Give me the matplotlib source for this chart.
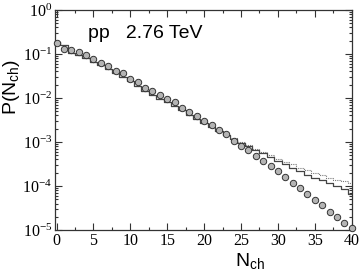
import numpy as np
import matplotlib
matplotlib.use('Agg')
import matplotlib.pyplot as plt
from matplotlib.ticker import MultipleLocator, LogLocator, NullFormatter

plt.rcParams['mathtext.fontset'] = 'custom'
plt.rcParams['mathtext.rm'] = 'Liberation Serif'
plt.rcParams['mathtext.it'] = 'Liberation Serif:italic'
plt.rcParams['mathtext.sf'] = 'Liberation Sans'

# multiplicity bins
nch = list(range(0, 41))

# data points (circles)
p_data = [0.18, 0.133, 0.122, 0.110, 0.096, 0.078, 0.063, 0.053, 0.0415, 0.036,
          0.0273, 0.0229, 0.0172, 0.0141, 0.0115, 0.0097, 0.0080, 0.0060, 0.00475, 0.00386,
          0.00303, 0.00246, 0.00185, 0.00148, 0.00108, 0.00083, 0.00065, 0.000476, 0.000366, 0.000282,
          0.000214, 0.000159, 0.000118, 8.9e-5, 6.65e-5, 4.93e-5, 3.66e-5, 2.63e-5, 2.0e-5, 1.46e-5,
          1.12e-5]

# model histogram (solid)
p_solid = [0.19, 0.16, 0.105, 0.094, 0.082, 0.067, 0.055, 0.045, 0.036, 0.030,
           0.024, 0.019, 0.0145, 0.0118, 0.0093, 0.0080, 0.0066, 0.0052, 0.0042, 0.0034,
           0.0027, 0.0022, 0.00175, 0.00145, 0.00120, 0.00097, 0.00080, 0.00066, 0.00055, 0.00045,
           0.00037, 0.00031, 0.00026, 0.00022, 0.00018, 0.000155, 0.000135, 0.000118, 0.000100, 0.000085,
           0.000065]

# model histogram (dotted)
p_dot = [0.19, 0.16, 0.105, 0.094, 0.082, 0.067, 0.055, 0.045, 0.036, 0.030,
         0.024, 0.019, 0.0145, 0.0118, 0.0093, 0.0080, 0.0066, 0.0052, 0.0042, 0.0034,
         0.0027, 0.0022, 0.00175, 0.00145, 0.00121, 0.00100, 0.00084, 0.00070, 0.00060, 0.00050,
         0.00042, 0.00036, 0.00031, 0.00026, 0.00023, 0.00020, 0.000175, 0.000155, 0.000140, 0.000128,
         0.000120]

fig = plt.figure(figsize=(3.6, 2.73), dpi=100)
ax = fig.add_axes([0.153, 0.1575, 0.825, 0.806])

ax.step(nch, p_dot, where='mid', color='#777777', lw=0.8, ls=(0, (1, 1)))
ax.step(nch, p_solid, where='mid', color='#444444', lw=0.9)
ax.plot(nch, p_data, 'o', ms=4.6, mfc='#b4b4b4', mec='#333333', mew=0.7, clip_on=False, zorder=3)

ax.set_yscale('log')
ax.set_xlim(-0.2, 40.05)
ax.set_ylim(1e-5, 1)

ax.xaxis.set_major_locator(MultipleLocator(5))
ax.xaxis.set_minor_locator(MultipleLocator(2.5))
ax.yaxis.set_major_locator(LogLocator(base=10, numticks=10))
ax.yaxis.set_minor_locator(LogLocator(base=10, subs=np.arange(2, 10), numticks=10))
ax.yaxis.set_minor_formatter(NullFormatter())
ax.tick_params(which='both', direction='in', top=True, right=True, width=0.8, color='#333333')
ax.tick_params(which='major', length=5)
ax.tick_params(which='minor', length=2.5)
for s in ax.spines.values():
    s.set_linewidth(0.9)
    s.set_color('#333333')

for lab in ax.get_xticklabels() + ax.get_yticklabels():
    lab.set_family('Liberation Serif')
    lab.set_fontsize(11.5)
ax.tick_params(axis='y', pad=2)
ax.tick_params(axis='x', pad=2)

fig.text(0.032, 0.68, r'$\mathsf{P(N_{ch})}$', rotation=90, ha='center', va='center',
         fontsize=14)
fig.text(0.694, 0.045, r'$\mathsf{N_{ch}}$', ha='center', va='center',
         fontsize=14)
ax.text(0.11, 0.895, 'pp   2.76 TeV', transform=ax.transAxes, fontsize=14,
        family='Liberation Sans', va='center')

fig.savefig('out.png', dpi=100)
